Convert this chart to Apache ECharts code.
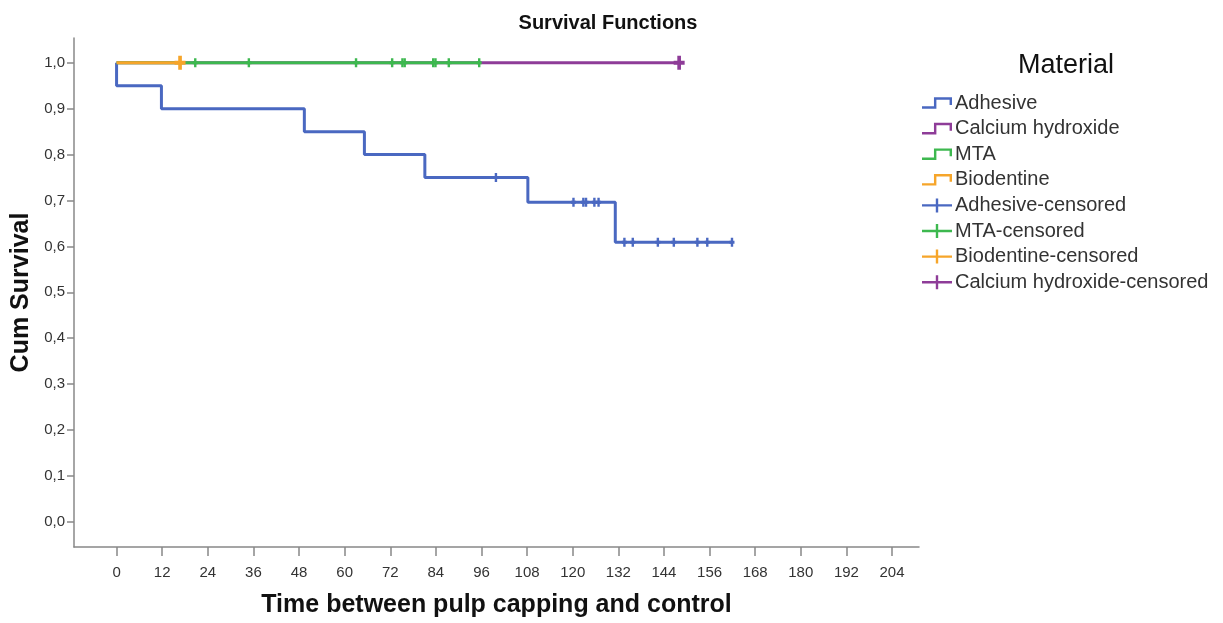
<!DOCTYPE html>
<html>
<head>
<meta charset="utf-8">
<script src="https://cdn.jsdelivr.net/npm/echarts@6/dist/echarts.min.js"></script>
<style>
html,body{margin:0;padding:0;background:#fff;}
#chart{width:1223px;height:623px;}
</style>
</head>
<body>
<div id="chart"></div>
<script>
// ---- Data ----
const xTicks = [0, 12, 24, 36, 48, 60, 72, 84, 96, 108, 120, 132, 144, 156, 168, 180, 192, 204];
const yTicks = [0, 0.1, 0.2, 0.3, 0.4, 0.5, 0.6, 0.7, 0.8, 0.9, 1.0];

const adhesiveTimes = [0, 0, 11.8, 49.4, 65.2, 81.1, 108.2, 131.2, 162];
const adhesiveSurv  = [1, 0.95, 0.90, 0.85, 0.80, 0.75, 0.696, 0.609, 0.609];
const adhesiveCensTimes = [99.8, 120.2, 122.8, 123.5, 125.7, 126.8, 133.6, 135.8, 142.4, 146.6, 152.8, 155.4, 161.9];
const adhesiveCensSurv  = [0.75, 0.696, 0.696, 0.696, 0.696, 0.696, 0.609, 0.609, 0.609, 0.609, 0.609, 0.609, 0.609];

const calciumTimes = [0, 148];
const calciumSurv  = [1, 1];
const calciumCensTimes = [148];
const calciumCensSurv  = [1];

const mtaTimes = [0, 95.4];
const mtaSurv  = [1, 1];
const mtaCensTimes = [20.7, 34.8, 63.0, 72.5, 75.2, 75.8, 83.3, 83.9, 87.4, 95.4];
const mtaCensSurv  = [1, 1, 1, 1, 1, 1, 1, 1, 1, 1];

const biodentineTimes = [0, 16.7];
const biodentineSurv  = [1, 1];
const biodentineCensTimes = [16.7];
const biodentineCensSurv  = [1];

const groupNames = ['Adhesive', 'Calcium hydroxide', 'MTA', 'Biodentine'];
const censNames = ['Adhesive-censored', 'MTA-censored', 'Biodentine-censored', 'Calcium hydroxide-censored'];

// ---- Styling ----
const COLORS = {
  'Adhesive': '#4A68C1',
  'Calcium hydroxide': '#8E3C98',
  'MTA': '#3DB84F',
  'Biodentine': '#F6A52A'
};
const FONT = 'Arial, "Liberation Sans", sans-serif';

const stepIcon = 'path://M0 9.8 L11.8 9.8 L11.8 0.8 L29.6 0.8 L29.6 8.5 L27.2 8.5 L27.2 3.2 L14.2 3.2 L14.2 12.2 L0 12.2 Z';
const plusIcon = 'path://M0 5.8 L13.8 5.8 L13.8 0 L16.2 0 L16.2 5.8 L30 5.8 L30 8.2 L16.2 8.2 L16.2 14 L13.8 14 L13.8 8.2 L0 8.2 Z';
const smallMark = 'path://M0 3 L1.3 3 L1.3 0 L3.7 0 L3.7 3 L5 3 L5 6 L3.7 6 L3.7 9 L1.3 9 L1.3 6 L0 6 Z';
const bigMark = 'path://M0 5 L4 5 L4 0 L8 0 L8 5 L12 5 L12 9 L8 9 L8 14 L4 14 L4 9 L0 9 Z';

function zip(xs, ys) { return xs.map((x, i) => [x, ys[i]]); }

function lineSeries(name, xs, ys, z) {
  return {
    name: name, type: 'line', step: 'end',
    data: zip(xs, ys),
    showSymbol: false, symbol: 'none',
    z: z,
    color: COLORS[name],
    itemStyle: { color: COLORS[name] },
    lineStyle: { color: COLORS[name], width: 3 },
    emphasis: { disabled: true },
    animation: false
  };
}
function censSeries(name, group, xs, ys, symbol, size, z) {
  return {
    name: name, type: 'scatter',
    data: zip(xs, ys),
    symbol: symbol, symbolSize: size,
    z: z,
    color: COLORS[group],
    itemStyle: { color: COLORS[group], opacity: 1 },
    emphasis: { disabled: true },
    animation: false
  };
}

const series = [
  lineSeries('Adhesive', adhesiveTimes, adhesiveSurv, 3),
  lineSeries('Calcium hydroxide', calciumTimes, calciumSurv, 2),
  lineSeries('MTA', mtaTimes, mtaSurv, 4),
  lineSeries('Biodentine', biodentineTimes, biodentineSurv, 5),
  censSeries('Adhesive-censored', 'Adhesive', adhesiveCensTimes, adhesiveCensSurv, smallMark, [5, 9], 6),
  censSeries('MTA-censored', 'MTA', mtaCensTimes, mtaCensSurv, smallMark, [5, 9], 6),
  censSeries('Biodentine-censored', 'Biodentine', biodentineCensTimes, biodentineCensSurv, bigMark, [11, 14], 7),
  censSeries('Calcium hydroxide-censored', 'Calcium hydroxide', calciumCensTimes, calciumCensSurv, bigMark, [11, 14], 7)
];

const legendData = groupNames.map(n => ({ name: n, icon: stepIcon }))
  .concat(censNames.map(n => ({ name: n, icon: plusIcon })));

const chart = echarts.init(document.getElementById('chart'), null, { renderer: 'canvas' });
chart.setOption({
  backgroundColor: '#ffffff',
  animation: false,
  textStyle: { fontFamily: FONT },
  title: [
    {
      text: 'Survival Functions', left: 603, top: 8, textAlign: 'center',
      textStyle: { fontFamily: FONT, fontSize: 20, fontWeight: 'bold', color: '#111' }
    },
    {
      text: 'Material', left: 1061, top: 47, textAlign: 'center',
      textStyle: { fontFamily: FONT, fontSize: 27, fontWeight: 'normal', color: '#111' }
    }
  ],
  legend: {
    orient: 'vertical', left: 922, top: 93, padding: 0,
    itemWidth: 30, itemHeight: 14, itemGap: 5.6,
    selectedMode: false,
    textStyle: { fontFamily: FONT, fontSize: 20, color: '#333', padding: [0, 0, 0, -2] },
    data: legendData
  },
  grid: { left: 74, right: 304, top: 38, bottom: 72, containLabel: false },
  xAxis: {
    type: 'value', min: -11.2, max: 211.1,
    interval: 12,
    name: 'Time between pulp capping and control',
    nameLocation: 'middle', nameGap: 46,
    nameTextStyle: { fontFamily: FONT, fontSize: 25, fontWeight: 'bold', color: '#111' },
    axisLine: { show: true, onZero: false, lineStyle: { color: '#888', width: 1.5 } },
    axisTick: { show: true, length: 9, lineStyle: { color: '#888', width: 1.5 },
      customValues: xTicks },
    axisLabel: { fontFamily: FONT, fontSize: 15, color: '#333', margin: 18,
      customValues: xTicks, formatter: v => String(v) },
    splitLine: { show: false }
  },
  yAxis: {
    type: 'value', min: -0.055, max: 1.054,
    name: 'Cum Survival',
    nameLocation: 'middle', nameGap: 40,
    nameTextStyle: { fontFamily: FONT, fontSize: 25, fontWeight: 'bold', color: '#111' },
    axisLine: { show: true, onZero: false, lineStyle: { color: '#888', width: 1.5 } },
    axisTick: { show: true, length: 7, lineStyle: { color: '#888', width: 1.5 },
      customValues: yTicks },
    axisLabel: { fontFamily: FONT, fontSize: 15, color: '#333', margin: 9,
      customValues: yTicks, formatter: v => v.toFixed(1).replace('.', ',') },
    splitLine: { show: false }
  },
  tooltip: { show: false },
  series: series
});
</script>
</body>
</html>
